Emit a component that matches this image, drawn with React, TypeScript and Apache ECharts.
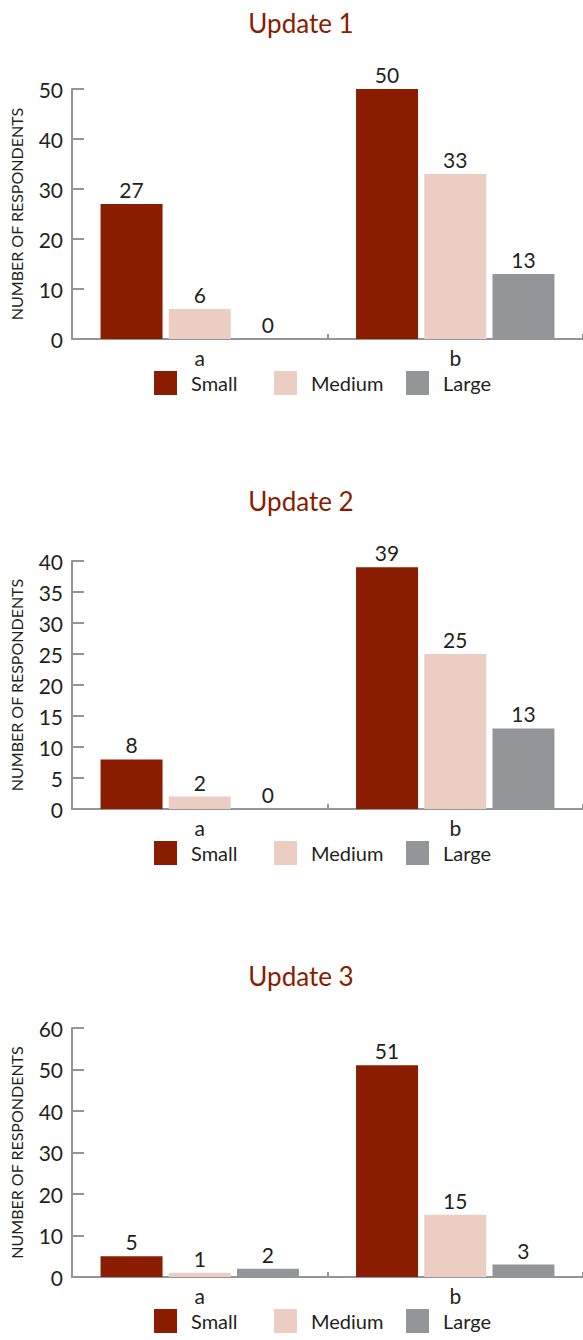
import React, { useEffect, useRef } from "react";
import * as echarts from "echarts";

const categories = ["a", "b"];
const seriesNames = ["Small", "Medium", "Large"];
const titles = ["Update 1", "Update 2", "Update 3"];

const update1Small = [27, 50];
const update1Medium = [6, 33];
const update1Large = [0, 13];

const update2Small = [8, 39];
const update2Medium = [2, 25];
const update2Large = [0, 13];

const update3Small = [5, 51];
const update3Medium = [1, 15];
const update3Large = [2, 3];

const yMax = [50, 40, 60];
const yInterval = [10, 5, 10];

const COLORS = ["#8A1C00", "#EBCEC1", "#939598"];
const TEXT = "#231F20";
const AXIS = "#939598";
const FONT = "Lato, 'Open Sans', sans-serif";

export default function App() {
  const ref = useRef<HTMLDivElement>(null);
  useEffect(() => {
    if (!ref.current) return;
    const chart = echarts.init(ref.current, null, { renderer: "svg" });
    const data = [
      [update1Small, update1Medium, update1Large],
      [update2Small, update2Medium, update2Large],
      [update3Small, update3Medium, update3Large],
    ];
    const gridTops = [89, 561, 1028];
    const gridBottoms = [339, 809, 1277];
    const titleCenters = [20, 498, 973];
    const legendLefts = [149, 269, 401];

    const grids = gridTops.map((t, i) => ({
      left: 72,
      right: -3,
      top: t,
      height: gridBottoms[i] - t,
    }));
    const xAxes = gridTops.map((_, i) => ({
      type: "category",
      gridIndex: i,
      data: categories,
      axisLine: { show: true, lineStyle: { color: AXIS, width: 2 } },
      axisTick: { show: true, inside: true, length: 5, lineStyle: { color: AXIS, width: 2 }, alignWithLabel: false },
      axisLabel: { color: TEXT, fontSize: 21, fontFamily: FONT, margin: 8 },
    }));
    const yAxes = gridTops.map((_, i) => ({
      type: "value",
      gridIndex: i,
      min: 0,
      max: yMax[i],
      interval: yInterval[i],
      name: "NUMBER OF RESPONDENTS",
      nameLocation: "middle",
      nameGap: 48,
      nameTextStyle: { color: TEXT, fontSize: 16, fontFamily: FONT },
      axisLine: { show: true, lineStyle: { color: AXIS, width: 2 } },
      axisTick: { show: true, inside: true, length: 12, lineStyle: { color: AXIS, width: 2 } },
      axisLabel: { color: TEXT, fontSize: 21, fontFamily: FONT, margin: 9 },
      splitLine: { show: false },
    }));
    const series: any[] = [];
    data.forEach((group, gi) => {
      group.forEach((vals, si) => {
        series.push({
          type: "bar",
          name: seriesNames[si],
          xAxisIndex: gi,
          yAxisIndex: gi,
          data: vals,
          barWidth: 62,
          barGap: "10%",
          itemStyle: { color: COLORS[si] },
          label: {
            show: true,
            position: "top",
            distance: 4,
            color: TEXT,
            fontSize: 21,
            fontFamily: FONT,
          },
        });
      });
    });
    const legends: any[] = [];
    gridBottoms.forEach((b) => {
      seriesNames.forEach((n, si) => {
        legends.push({
          data: [n],
          left: legendLefts[si],
          top: b + 27,
          itemWidth: 23,
          itemHeight: 24,
          icon: "rect",
          selectedMode: false,
          textStyle: { color: TEXT, fontSize: 20, fontFamily: FONT, padding: [0, 0, 0, 9] },
        });
      });
    });
    const titleOpts = titles.map((t, i) => ({
      text: t,
      left: 296,
      textAlign: "center",
      top: titleCenters[i] - 15,
      textStyle: { color: "#8A1C00", fontSize: 26, fontWeight: "normal", fontFamily: FONT },
    }));
    chart.setOption({
      animation: false,
      title: titleOpts,
      grid: grids,
      xAxis: xAxes,
      yAxis: yAxes,
      legend: legends,
      series,
    });
    return () => chart.dispose();
  }, []);
  return (
    <div style={{ position: "absolute", left: 0, top: 0, width: 583, height: 1340, overflow: "hidden", background: "#fff" }}>
      <div ref={ref} style={{ width: 583, height: 1340 }} />
    </div>
  );
}
